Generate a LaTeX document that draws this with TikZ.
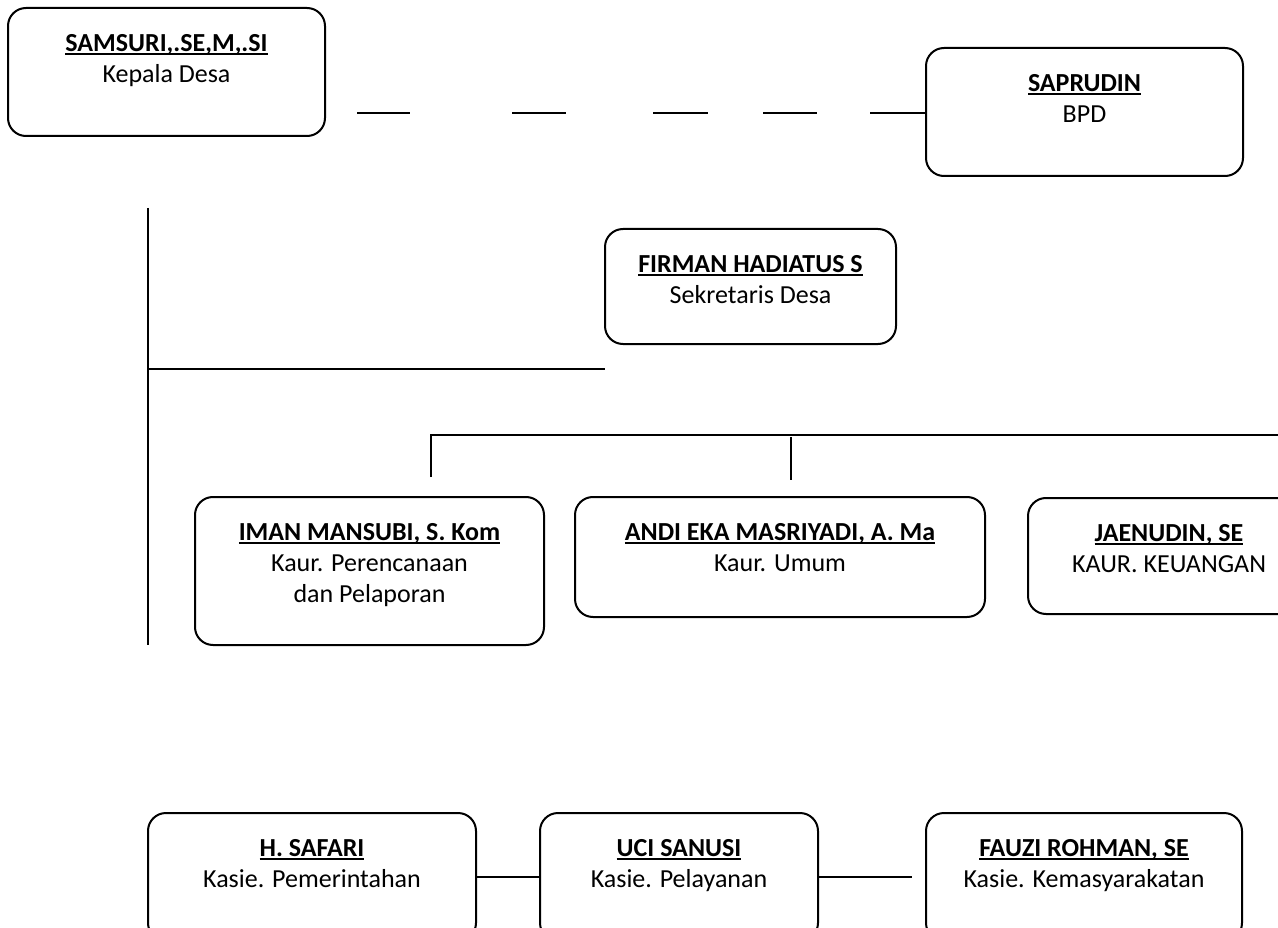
\documentclass[tikz,border=0pt]{standalone}
\usepackage{fontspec}
\setmainfont{Carlito}
\usepackage{tikz}
\usetikzlibrary{positioning}
\tikzstyle{kotak}=[rectangle, draw, rounded corners=18pt, anchor=north west, inner sep=0pt]
\tikzstyle{isi}=[anchor=north, yshift=-26pt, align=center, inner sep=0pt, font=\fontsize{26}{31}\selectfont]
\tikzstyle{garisputus}=[dash pattern=on 53pt off 102pt on 54pt off 87pt on 55pt off 55pt on 54pt off 53pt on 55pt]
\tikzset{every picture/.style={
    line width=2pt
  }
}
\newsavebox{\kotakjudul}
\newcommand{\jabatan}[2]{\sbox{\kotakjudul}{\textbf{#1}}\rlap{\rule[-4pt]{\wd\kotakjudul}{1.8pt}}\usebox{\kotakjudul}\\#2}

\begin{document}
\begin{tikzpicture}[x=1pt, y=-1pt]
        \useasboundingbox (0,0) rectangle (1278,928);
        \node[kotak, minimum width=317pt, minimum height=128pt, label={[isi]north:{\jabatan{SAMSURI,.SE,M,.SI}{Kepala Desa}}}] at (7,7) (kades) {};
        \node[kotak, minimum width=317pt, minimum height=128pt, label={[isi]north:{\jabatan{SAPRUDIN}{BPD}}}] at (925,47) (bpd) {};
        \node[kotak, minimum width=291pt, minimum height=115pt, label={[isi]north:{\jabatan{FIRMAN HADIATUS S}{Sekretaris Desa}}}] at (604,228) (sekdes) {};
        \node[kotak, minimum width=349pt, minimum height=148pt, label={[isi]north:{\jabatan{IMAN MANSUBI, S. Kom}{Kaur. Perencanaan\\dan Pelaporan}}}] at (194,496) (kaur1) {};
        \node[kotak, minimum width=410pt, minimum height=120pt, label={[isi]north:{\jabatan{ANDI EKA MASRIYADI, A. Ma}{Kaur. Umum}}}] at (574,496) (kaur2) {};
        \node[kotak, minimum width=282pt, minimum height=116pt, label={[isi]north:{\jabatan{JAENUDIN, SE}{KAUR. KEUANGAN}}}] at (1027,497) (kaur3) {};
        \node[kotak, minimum width=328pt, minimum height=128pt, label={[isi]north:{\jabatan{H. SAFARI}{Kasie. Pemerintahan}}}] at (147,812) (kasi1) {};
        \node[kotak, minimum width=278pt, minimum height=128pt, label={[isi]north:{\jabatan{UCI SANUSI}{Kasie. Pelayanan}}}] at (539,812) (kasi2) {};
        \node[kotak, minimum width=316pt, minimum height=128pt, label={[isi]north:{\jabatan{FAUZI ROHMAN, SE}{Kasie. Kemasyarakatan}}}] at (925,812) (kasi3) {};
        % garis kepala desa - bpd
        \coordinate (putus) at (357,113);
        \draw[garisputus] (putus) -- (putus -| bpd.west);
        % garis tegak kiri
        \coordinate (atas) at (148,208);
        \coordinate (bawah) at (148,645);
        \coordinate (cabang) at (148,369);
        \coordinate (ujung) at (605,369);
        \draw (atas) -- (bawah);
        \draw (cabang) -- (ujung);
        % garis kaur
        \coordinate (bus1) at (431,435);
        \coordinate (bus2) at (1285,435);
        \coordinate (turun1) at (431,477);
        \coordinate (naik2) at (791,437);
        \coordinate (turun2) at (791,480);
        \draw (turun1) -- (bus1) -- (bus2);
        \draw (naik2) -- (turun2);
        % garis kasie
        \draw (kasi1.east) -- (kasi2.west);
        \draw (kasi2.east) -- ([xshift=-13pt]kasi3.west);
      \end{tikzpicture}
\end{document}
